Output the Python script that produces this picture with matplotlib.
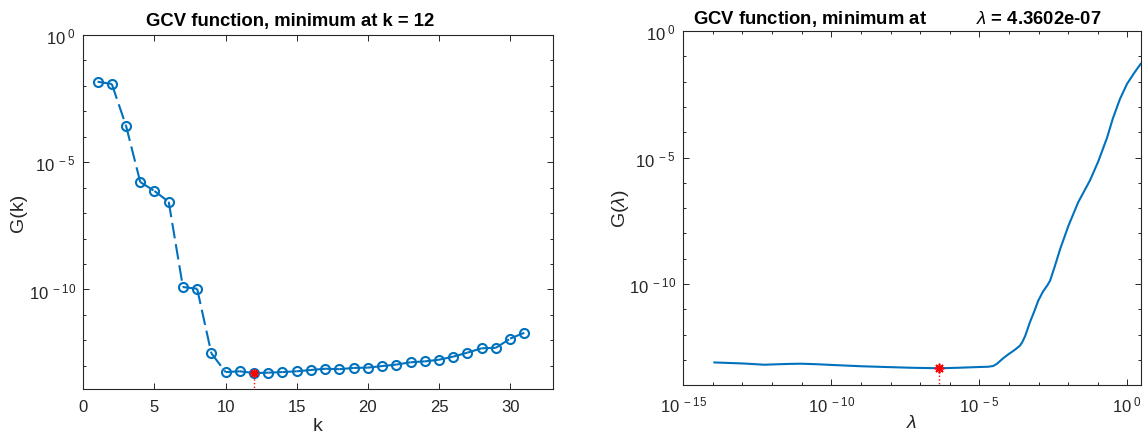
import numpy as np
import matplotlib.pyplot as plt
from matplotlib.ticker import FixedLocator, FixedFormatter, NullFormatter

plt.rcParams['font.family'] = ['Liberation Sans', 'DejaVu Sans']
plt.rcParams['mathtext.fontset'] = 'custom'
plt.rcParams['mathtext.rm'] = 'Liberation Sans'
plt.rcParams['mathtext.it'] = 'Liberation Sans:italic'
plt.rcParams['mathtext.bf'] = 'Liberation Sans:bold'

# discrete GCV (TSVD), G(k) for k = 1..31
k = [1, 2, 3, 4, 5, 6, 7, 8, 9, 10, 11, 12, 13, 14, 15, 16,
     17, 18, 19, 20, 21, 22, 23, 24, 25, 26, 27, 28, 29, 30, 31]
G_k = [1.46e-2, 1.19e-2, 2.73e-4, 1.67e-6, 7.4e-7, 2.8e-7, 1.25e-10, 1.07e-10,
       3.1e-13, 5.7e-14, 6.1e-14, 5.2e-14, 5.4e-14, 5.7e-14, 6.1e-14, 6.9e-14,
       7.7e-14, 7.4e-14, 8.3e-14, 8.5e-14, 9.8e-14, 1.12e-13, 1.38e-13, 1.5e-13,
       1.74e-13, 2.3e-13, 3.3e-13, 4.9e-13, 5.1e-13, 1.17e-12, 2.0e-12]
k_min = 12

# continuous GCV (Tikhonov), log10 values
lam_log10 = [-13.95, -13.0, -12.26, -11.5, -11.02, -10.5, -9.97, -9.0, -8.18,
             -7.3, -6.36, -5.70, -5.0, -4.7, -4.53, -4.4, -4.2, -4.02, -3.8,
             -3.63, -3.55, -3.45, -3.29, -3.15, -3.01, -2.85, -2.7, -2.61,
             -2.45, -2.27, -1.99, -1.66, -1.26, -0.98, -0.68, -0.49, -0.25,
             -0.01, 0.23, 0.45]
G_lam_log10 = [-13.10, -13.14, -13.19, -13.16, -13.15, -13.17, -13.20, -13.25,
               -13.28, -13.31, -13.33, -13.31, -13.28, -13.27, -13.24, -13.15,
               -12.94, -12.78, -12.60, -12.44, -12.30, -12.05, -11.51, -11.10,
               -10.66, -10.30, -10.05, -9.87, -9.3, -8.62, -7.70, -6.77, -5.90,
               -5.15, -4.20, -3.46, -2.69, -2.09, -1.66, -1.30]
lam_min = 4.3602e-07
G_lam_min = 10 ** -13.33

blue = '#0072BD'
dark = '#262626'

lam = 10.0 ** np.array(lam_log10)
G_lam = 10.0 ** np.array(G_lam_log10)

asterisk = (8, 2, 0)

fig = plt.figure(figsize=(11.48, 4.39), dpi=100)
ax1 = fig.add_axes([0.0726, 0.1116, 0.4089, 0.8064])
ax2 = fig.add_axes([0.5952, 0.1214, 0.3984, 0.8057])

# left panel: one dashed piece per segment so short steps look solid
for i in range(len(k) - 1):
    ax1.plot(k[i:i + 2], G_k[i:i + 2], color=blue, lw=1.5,
             linestyle=(0, (7.5, 2.8)))
ax1.plot(k, G_k, 'o', color=blue, mfc='none', ms=6.5, mew=1.5)
g0 = G_k[k.index(k_min)]
ax1.plot([k_min, k_min], [g0 / 1000, g0], ':', color='red', lw=1)
ax1.plot(k_min, g0, marker=asterisk, color='red', ms=6, mew=1.2)
ax1.set_yscale('log')
ax1.set_xlim(0, 33)
ax1.set_ylim(10 ** -13.91, 1)
ax1.set_xticks([0, 5, 10, 15, 20, 25, 30])
ax1.set_xlabel('k', fontsize=14, color=dark, labelpad=2)
ax1.set_ylabel('G(k)', fontsize=14, color=dark, labelpad=1)
ax1.set_title('GCV function, minimum at k = %d' % k_min, fontsize=13.3,
              fontweight='bold', x=0.44, pad=7)

# right panel
ax2.plot(lam, G_lam, '-', color=blue, lw=1.5)
ax2.plot([lam_min, lam_min], [G_lam_min / 1000, G_lam_min], ':', color='red', lw=1)
ax2.plot(lam_min, G_lam_min, marker=asterisk, color='red', ms=7, mew=1.2)
ax2.set_xscale('log')
ax2.set_yscale('log')
ax2.set_xlim(1e-15, 10 ** 0.45)
ax2.set_ylim(10 ** -13.98, 1)
ax2.set_xlabel(r'$\lambda$', fontsize=14, color=dark, labelpad=0)
ax2.set_ylabel(r'G($\lambda$)', fontsize=14, color=dark, labelpad=-1.5)
ax2.set_title(r'GCV function, minimum at          $\lambda$ = %.4e' % lam_min,
              fontsize=13.3, fontweight='bold', x=0.467, pad=6)

ydec = [0, -5, -10]
for ax in (ax1, ax2):
    ax.yaxis.set_major_locator(FixedLocator([10.0 ** e for e in ydec]))
    ax.yaxis.set_major_formatter(FixedFormatter([r'$10^{\ %d}$' % e for e in ydec]))
    ax.yaxis.set_minor_locator(FixedLocator([10.0 ** -e for e in range(0, 15)]))
    ax.yaxis.set_minor_formatter(NullFormatter())

xdec = [-15, -10, -5, 0]
ax2.xaxis.set_major_locator(FixedLocator([10.0 ** e for e in xdec]))
ax2.xaxis.set_major_formatter(FixedFormatter([r'$10^{\ %d}$' % e for e in xdec]))
ax2.xaxis.set_minor_locator(FixedLocator([10.0 ** e for e in range(-15, 1)]))
ax2.xaxis.set_minor_formatter(NullFormatter())

for ax in (ax1, ax2):
    ax.tick_params(which='both', direction='in', top=True, right=True,
                   colors=dark, labelsize=12, width=0.7)
    ax.tick_params(which='major', length=4)
    ax.tick_params(which='minor', length=2)
    ax.tick_params(axis='x', pad=7)
    ax.tick_params(axis='y', pad=5.5)
    for s in ax.spines.values():
        s.set_color(dark)
        s.set_linewidth(0.8)

fig.savefig('out.png', dpi=100)
